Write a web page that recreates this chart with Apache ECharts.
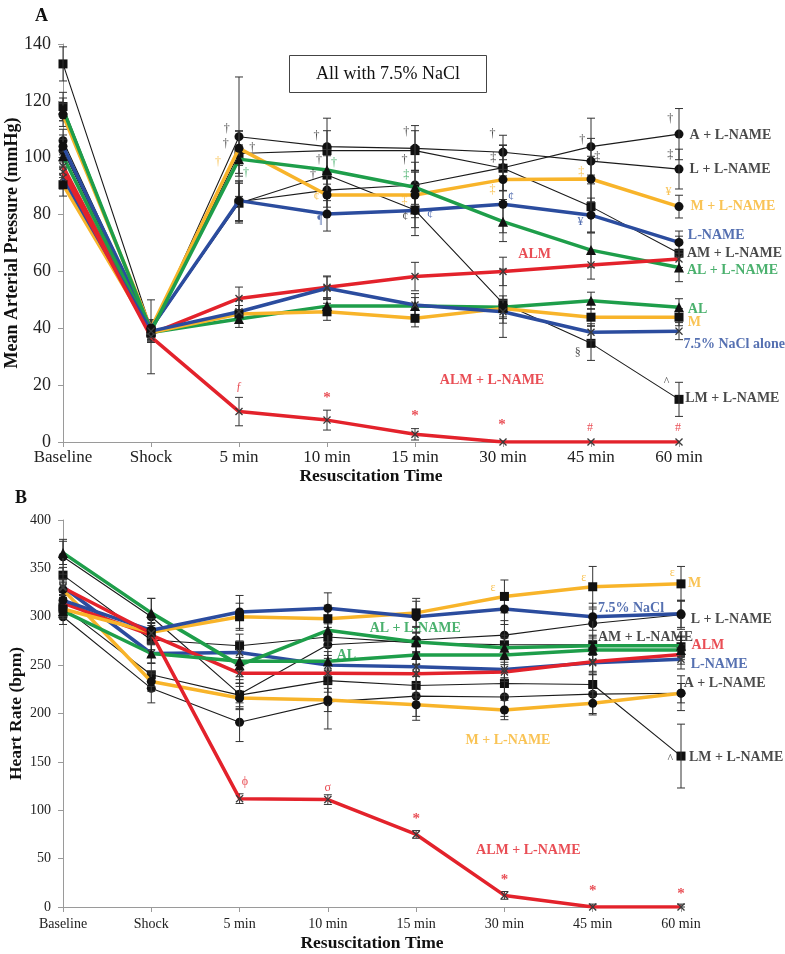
<!DOCTYPE html>
<html>
<head>
<meta charset="utf-8">
<script src="https://cdn.jsdelivr.net/npm/echarts@6/dist/echarts.min.js"></script>
<style>
  html, body { margin: 0; background: #fff; }
  #chart { width: 785px; height: 954px; }
</style>
</head>
<body>
<div id="chart"></div>
<script>
// time points on the x axis
const times = ['Baseline', 'Shock', '5 min', '10 min', '15 min', '30 min', '45 min', '60 min']

// A: mean arterial pressure (mmHg), with error half-widths
const mapA_LN = [106, 39.5, 84.5, 88.6, 90.4, 96.5, 103.9, 108.3]
const mapA_LN_err = [4, 3, 7, 6, 8, 8, 10, 9]
const mapL_LN = [102.5, 39, 107.4, 103.9, 103.3, 101.9, 98.8, 96]
const mapL_LN_err = [4, 3, 21, 10, 8, 6, 8, 7]
const mapM_LN = [115, 40, 103.3, 86.9, 86.9, 92.3, 92.5, 82.8]
const mapM_LN_err = [4, 3, 6, 7, 8, 7, 8, 4]
const mapLN = [104, 40, 84.9, 80.2, 81.4, 83.6, 79.8, 70.2]
const mapLN_err = [4, 3, 7, 6, 6, 10, 6, 4]
const mapAM_LN = [118, 39, 101.5, 102.5, 102.5, 96.3, 82.8, 66.4]
const mapAM_LN_err = [5, 3, 8, 7, 7, 8, 9, 6]
const mapAL_LN = [117, 39, 99.5, 95.7, 89.6, 77.5, 67.5, 61.4]
const mapAL_LN_err = [4, 3, 5, 5, 6, 7, 6, 5]
const mapALM = [97, 38, 50.5, 54.4, 58.2, 60, 62.3, 64.4]
const mapALM_err = [4, 3, 4, 4, 5, 5, 5, 3]
const mapAL = [100.5, 38.5, 43.3, 47.8, 47.8, 47.4, 49.7, 47.4]
const mapAL_err = [4, 3, 3, 3, 3, 4, 3, 3]
const mapM = [90.5, 38.5, 45, 45.8, 43.5, 47, 43.9, 43.9]
const mapM_err = [4, 3, 3, 3, 3, 3, 3, 3]
const mapNaCl = [93, 39, 45.8, 54.1, 48.2, 45.8, 38.6, 39]
const mapNaCl_err = [4, 3, 4, 4, 4, 4, 3, 3]
const mapLM_LN = [133, 40, 84, 93.9, 81.6, 48.8, 34.7, 15]
const mapLM_LN_err = [6, 3, 7, 9, 9, 12, 6, 6]
const mapALM_LN = [95, 37, 10.7, 7.7, 2.7, 0, 0, 0]
const mapALM_LN_err = [4, 13, 5, 3.5, 2, 0, 0, 0]

// B: heart rate (bpm), with error half-widths
const hrA_LN = [300, 226, 191, 212, 218, 217, 220, 221]
const hrA_LN_err = [8, 15, 20, 28, 25, 20, 20, 18]
const hrL_LN = [362, 300, 220, 271, 276, 281, 293, 302]
const hrL_LN_err = [18, 19, 15, 14, 14, 15, 15, 15]
const hrM_LN = [328, 233, 216, 214, 209, 203.6, 210.5, 221]
const hrM_LN_err = [8, 10, 12, 12, 12, 10, 12, 10]
const hrLN = [331, 262, 263, 250, 248.4, 245.6, 252.5, 256]
const hrLN_err = [8, 10, 12, 10, 10, 10, 12, 10]
const hrAM_LN = [343, 276, 270, 279, 273, 271, 271, 269]
const hrAM_LN_err = [8, 10, 12, 10, 10, 10, 10, 10]
const hrAL_LN = [366, 304, 250, 286, 274, 268, 270, 270]
const hrAL_LN_err = [12, 15, 12, 12, 10, 10, 10, 10]
const hrALM = [314, 281, 241.5, 241.5, 241, 243, 253.6, 261]
const hrALM_err = [8, 10, 10, 10, 10, 10, 10, 10]
const hrAL = [306, 262, 254, 254, 260.5, 260.5, 265.6, 265.6]
const hrAL_err = [8, 10, 10, 10, 10, 10, 10, 10]
const hrM = [308, 284, 300, 298, 304, 321, 331, 334]
const hrM_err = [8, 10, 14, 14, 15, 17, 21, 18]
const hrNaCl = [317, 286, 305, 308.7, 300, 308, 300, 303]
const hrNaCl_err = [8, 12, 17, 16, 16, 16, 14, 14]
const hrLM_LN = [310, 240, 219, 234, 229, 231, 230, 156]
const hrLM_LN_err = [10, 12, 12, 12, 12, 12, 12, 33]
const hrALM_LN = [330, 283, 112, 111, 75, 12, 0, 0]
const hrALM_LN_err = [8, 10, 5, 5, 4, 4, 3, 3]

// significance marks and series names, in data coordinates [x index, value, text, colour]
const mapMarks = [
  [1.86, 110, '†', 'black'], [1.85, 104.8, '†', 'black'], [2.15, 103.4, '†', 'black'],
  [1.76, 98.5, '†', 'orange'], [2.08, 94.6, '†', 'green'],
  [2.88, 107.6, '†', 'black'], [2.91, 99.2, '†', 'black'], [3.08, 98.1, '†', 'green'],
  [2.84, 93.9, '†', 'black'], [2.88, 86.2, '¢', 'orange'], [2.92, 78.1, '¶', 'blue'],
  [3.9, 109, '†', 'black'], [3.88, 99.2, '†', 'black'], [3.9, 93.9, '‡', 'green'],
  [3.88, 85.1, '‡', 'orange'], [3.89, 79.1, '¢', 'black'], [4.17, 79.8, '¢', 'blue'],
  [4.88, 108.3, '†', 'black'], [4.89, 99.9, '‡', 'black'], [4.88, 88.6, '‡', 'orange'],
  [5.09, 86.2, '¢', 'blue'],
  [5.9, 106.2, '†', 'black'], [6.07, 100.2, '‡', 'black'], [5.89, 95, '‡', 'orange'],
  [5.88, 77.4, '¥', 'blue'],
  [6.9, 113.6, '†', 'black'], [6.9, 101, '‡', 'black'], [6.88, 87.9, '¥', 'orange'],
  [5.85, 31.3, '§', 'black'], [6.86, 21.1, '^', 'black'],
  [2.0, 19.3, 'ƒ', 'red'], [3.0, 15.5, '*', 'red'], [4.0, 9.1, '*', 'red'],
  [4.99, 6, '*', 'red'], [5.99, 4.9, '#', 'red'], [6.99, 4.9, '#', 'red']
]
const mapNames = [
  [7.12, 108, 'A + L-NAME', 'black', 'left'], [7.12, 96, 'L + L-NAME', 'black', 'left'],
  [7.13, 82.8, 'M + L-NAME', 'orange', 'left'], [7.1, 72.8, 'L-NAME', 'blue', 'left'],
  [7.09, 66.5, 'AM + L-NAME', 'black', 'left'], [7.09, 60.3, 'AL + L-NAME', 'green', 'left'],
  [7.1, 46.8, 'AL', 'green', 'left'], [7.1, 41.9, 'M', 'orange', 'left'],
  [7.05, 34.5, '7.5% NaCl alone', 'blue', 'left'], [7.07, 15.5, 'LM + L-NAME', 'black', 'left'],
  [5.36, 66, 'ALM', 'red', 'center'], [4.875, 21.8, 'ALM + L-NAME', 'red', 'center']
]
const hrMarks = [
  [2.06, 129, 'ϕ', 'red'], [3.0, 123, 'σ', 'red'], [4.0, 91, '*', 'red'],
  [5.0, 28, '*', 'red'], [6.0, 16, '*', 'red'], [7.0, 13, '*', 'red'],
  [4.87, 330, 'ε', 'orange'], [5.9, 340, 'ε', 'orange'], [6.9, 345, 'ε', 'orange'],
  [6.88, 153, '^', 'black']
]
const hrNames = [
  [7.08, 334, 'M', 'orange', 'left'], [6.06, 309, '7.5% NaCl', 'blue', 'left'],
  [7.11, 297, 'L + L-NAME', 'black', 'left'], [6.06, 279, 'AM + L-NAME', 'black', 'left'],
  [7.12, 270, 'ALM', 'red', 'left'], [7.11, 251, 'L-NAME', 'blue', 'left'],
  [7.03, 231.5, 'A + L-NAME', 'black', 'left'], [7.09, 155, 'LM + L-NAME', 'black', 'left'],
  [5.04, 172, 'M + L-NAME', 'orange', 'center'], [5.27, 59, 'ALM + L-NAME', 'red', 'center'],
  [3.99, 288, 'AL + L-NAME', 'green', 'center'], [3.1, 260, 'AL', 'green', 'left']
]

const FONT = 'Liberation Serif'
const COLORS = { black: '#1b1b1b', orange: '#F8B42A', green: '#1E9E4A', blue: '#2B4C9E', red: '#E3222B' }
const SYM_X = 'path://M0,1.2L1.2,0L5,3.8L8.8,0L10,1.2L6.2,5L10,8.8L8.8,10L5,6.2L1.2,10L0,8.8L3.8,5Z'

const mapSeries = [
  ['A + L-NAME', mapA_LN, mapA_LN_err, 'black', 'circle'],
  ['L + L-NAME', mapL_LN, mapL_LN_err, 'black', 'circle'],
  ['AM + L-NAME', mapAM_LN, mapAM_LN_err, 'black', 'rect'],
  ['LM + L-NAME', mapLM_LN, mapLM_LN_err, 'black', 'rect'],
  ['M + L-NAME', mapM_LN, mapM_LN_err, 'orange', 'circle'],
  ['L-NAME', mapLN, mapLN_err, 'blue', 'circle'],
  ['AL + L-NAME', mapAL_LN, mapAL_LN_err, 'green', 'triangle'],
  ['ALM', mapALM, mapALM_err, 'red', 'x'],
  ['AL', mapAL, mapAL_err, 'green', 'triangle'],
  ['M', mapM, mapM_err, 'orange', 'rect'],
  ['7.5% NaCl alone', mapNaCl, mapNaCl_err, 'blue', 'x'],
  ['ALM + L-NAME', mapALM_LN, mapALM_LN_err, 'red', 'x']
]
const hrSeries = [
  ['A + L-NAME', hrA_LN, hrA_LN_err, 'black', 'circle'],
  ['L + L-NAME', hrL_LN, hrL_LN_err, 'black', 'circle'],
  ['AM + L-NAME', hrAM_LN, hrAM_LN_err, 'black', 'rect'],
  ['LM + L-NAME', hrLM_LN, hrLM_LN_err, 'black', 'rect'],
  ['M + L-NAME', hrM_LN, hrM_LN_err, 'orange', 'circle'],
  ['L-NAME', hrLN, hrLN_err, 'blue', 'x'],
  ['AL + L-NAME', hrAL_LN, hrAL_LN_err, 'green', 'triangle'],
  ['ALM', hrALM, hrALM_err, 'red', 'x'],
  ['AL', hrAL, hrAL_err, 'green', 'triangle'],
  ['M', hrM, hrM_err, 'orange', 'rect'],
  ['7.5% NaCl', hrNaCl, hrNaCl_err, 'blue', 'circle'],
  ['ALM + L-NAME', hrALM_LN, hrALM_LN_err, 'red', 'x']
]

function lineSeries(def, ai) {
  const [name, vals, , col, sym] = def
  const thick = col !== 'black'
  return {
    name: name,
    type: 'line',
    xAxisIndex: ai,
    yAxisIndex: ai,
    data: vals.map((v, i) => [i, v]),
    symbol: sym === 'x' ? SYM_X : sym,
    symbolSize: sym === 'x' ? 8 : (sym === 'triangle' ? 10 : 9),
    lineStyle: { color: COLORS[col], width: thick ? 3.5 : 1.1 },
    itemStyle: { color: sym === 'x' ? '#3a3a3a' : '#111' },
    z: thick ? 4 : 2,
    silent: true
  }
}

function errorSeries(defs, ai) {
  const data = []
  defs.forEach((d) => {
    d[1].forEach((v, i) => {
      const e = d[2][i]
      if (e > 0) data.push([i, Math.max(0, v - e), v + e])
    })
  })
  return {
    type: 'custom',
    xAxisIndex: ai,
    yAxisIndex: ai,
    data: data,
    z: 3,
    silent: true,
    renderItem: function (params, api) {
      const top = api.coord([api.value(0), api.value(2)])
      const bot = api.coord([api.value(0), api.value(1)])
      const w = 4
      const st = { stroke: '#333', lineWidth: 1 }
      return {
        type: 'group',
        children: [
          { type: 'line', shape: { x1: top[0], y1: top[1], x2: bot[0], y2: bot[1] }, style: st },
          { type: 'line', shape: { x1: top[0] - w, y1: top[1], x2: top[0] + w, y2: top[1] }, style: st },
          { type: 'line', shape: { x1: bot[0] - w, y1: bot[1], x2: bot[0] + w, y2: bot[1] }, style: st }
        ]
      }
    }
  }
}

function textSeries(items, ai, isName) {
  return {
    type: 'scatter',
    xAxisIndex: ai,
    yAxisIndex: ai,
    symbolSize: 1,
    clip: false,
    z: 6,
    silent: true,
    itemStyle: { color: 'rgba(0,0,0,0)' },
    data: items.map((n) => ({
      value: [n[0], n[1]],
      label: {
        show: true,
        position: 'inside',
        formatter: n[2],
        color: COLORS[n[3]],
        fontFamily: FONT,
        fontSize: isName ? 14 : (n[2] === '*' ? 15 : 12),
        fontWeight: isName || n[2] === '*' ? 'bold' : 'normal',
        align: n[4] || 'center',
        verticalAlign: 'middle'
      }
    }))
  }
}

function xAxis(ai, fontSize, margin, nameGap) {
  return {
    type: 'value',
    gridIndex: ai,
    min: 0,
    max: 7,
    interval: 1,
    name: 'Resuscitation Time',
    nameLocation: 'middle',
    nameGap: nameGap,
    nameMoveOverlap: false,
    nameTextStyle: { fontFamily: FONT, fontSize: 17.5, fontWeight: 'bold', color: '#111' },
    axisLine: { lineStyle: { color: '#9a9a9a' } },
    axisTick: { length: 5, lineStyle: { color: '#9a9a9a' } },
    axisLabel: {
      fontFamily: FONT, fontSize: fontSize, color: '#222', margin: margin,
      formatter: (v) => times[v]
    },
    splitLine: { show: false }
  }
}

function yAxis(ai, max, interval, name, fontSize, nameSize, nameGap) {
  return {
    type: 'value',
    gridIndex: ai,
    min: 0,
    max: max,
    interval: interval,
    name: name,
    nameLocation: 'middle',
    nameGap: nameGap,
    nameMoveOverlap: false,
    nameTextStyle: { fontFamily: FONT, fontSize: nameSize, fontWeight: 'bold', color: '#111' },
    axisLine: { show: true, lineStyle: { color: '#9a9a9a' } },
    axisTick: { show: true, length: 5, lineStyle: { color: '#9a9a9a' } },
    axisLabel: { fontFamily: FONT, fontSize: fontSize, color: '#222', margin: 12 },
    splitLine: { show: false }
  }
}

const chart = echarts.init(document.getElementById('chart'))
const option = {
  backgroundColor: '#fff',
  animation: false,
  title: [
    { text: 'A', left: 30, top: 2, textStyle: { fontFamily: FONT, fontSize: 18, fontWeight: 'bold', color: '#111' } },
    { text: 'B', left: 10, top: 484, textStyle: { fontFamily: FONT, fontSize: 18, fontWeight: 'bold', color: '#111' } },
    {
      text: 'All with 7.5% NaCl', left: 289, top: 55,
      borderColor: '#444', borderWidth: 1, padding: [10, 27, 10, 27],
      textStyle: { fontFamily: FONT, fontSize: 18, fontWeight: 'normal', color: '#111' }
    }
  ],
  grid: [
    { left: 63, right: 106, top: 44, height: 398, outerBoundsMode: 'none', containLabel: false },
    { left: 63, right: 104, top: 520, height: 387, outerBoundsMode: 'none', containLabel: false }
  ],
  xAxis: [xAxis(0, 17, 7, 25), xAxis(1, 14, 10, 27)],
  yAxis: [
    yAxis(0, 140, 20, 'Mean Arterial Pressure (mmHg)', 18, 18, 42),
    yAxis(1, 400, 50, 'Heart Rate (bpm)', 14, 17.5, 38)
  ],
  series: [
    errorSeries(mapSeries, 0),
    errorSeries(hrSeries, 1),
    ...mapSeries.map((d) => lineSeries(d, 0)),
    ...hrSeries.map((d) => lineSeries(d, 1)),
    textSeries(mapMarks, 0, false),
    textSeries(mapNames, 0, true),
    textSeries(hrMarks, 1, false),
    textSeries(hrNames, 1, true)
  ]
}
chart.setOption(option)
</script>
</body>
</html>
